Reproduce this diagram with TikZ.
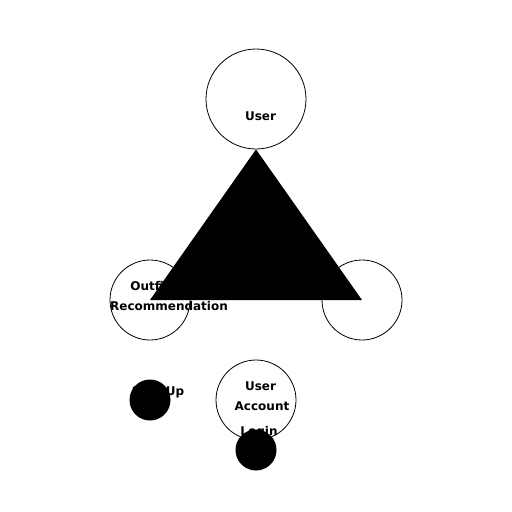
\documentclass[tikz,border=0pt]{standalone}
\usepackage{fontspec}
\setmainfont{DejaVu Sans}
\usetikzlibrary{positioning}

\begin{document}
\begin{tikzpicture}[
    x=1pt, y=-1pt,
    ring/.style={circle, draw, line width=0.8pt, minimum size=#1, inner sep=0pt},
    dot/.style={circle, fill=black, minimum size=41pt, inner sep=0pt},
    lbl/.style={font=\fontsize{12}{14}\selectfont\bfseries, inner sep=0pt, anchor=base}
]
\useasboundingbox (0,0) rectangle (512,512);

% Circles
\node[ring=100pt] (user) at (256,99) {};
\node[ring=80pt] (outfit) at (150,300) {};
\node[ring=80pt] (right) at (362,300) {};
\node[ring=80pt] (account) at (256,400) {};

% Labels
\node[lbl] (userlbl) at (260.5,120) {User};
\node[lbl] (outfitlbl) at (150,290.7) {Outfit};
\node[lbl] (recolbl) at (169,310) {Recommendation};
\node[lbl] (signlbl) at (158,395.5) {Sign Up};
\node[lbl] (acclbl1) at (260.5,390) {User};
\node[lbl] (acclbl2) at (262,410.7) {Account};
\node[lbl] (loginlbl) at (259,435.5) {Login};

% Triangle
\fill[black] (user.south) -- (outfit.center) -- (right.center) -- cycle;

% Dots
\node[dot] (signup) at (150,400) {};
\node[dot] (login) at (256,450) {};

\end{tikzpicture}
\end{document}
